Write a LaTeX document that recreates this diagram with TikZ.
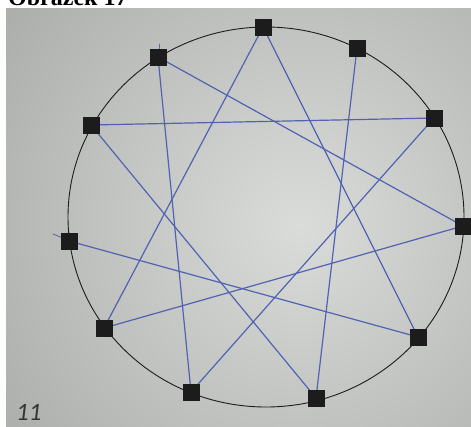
\documentclass[tikz,border=0pt]{standalone}
\usepackage{fontspec}
\setmainfont{Liberation Serif}
\newfontfamily\numfont{Carlito}
\definecolor{bgin}{RGB}{218,220,217}
\definecolor{bgout}{RGB}{150,152,150}
\definecolor{pen}{RGB}{82,98,178}
\definecolor{ink}{RGB}{28,28,28}
\tikzset{
  sq/.style={fill=ink, draw=none, minimum size=17pt, inner sep=0pt},
  penline/.style={draw=pen, line width=1.2pt, line cap=round},
  stray/.style={draw=pen!70!gray, line width=0.9pt, line cap=round},
}
\begin{document}
\begin{tikzpicture}[x=1pt,y=-1pt]
\useasboundingbox (0,0) rectangle (471,426);
\clip (0,0) rectangle (471,426);
\fill[white] (0,0) rectangle (471,426);
\begin{scope}
  \clip (6,8) rectangle (471,426);
  \shade[inner color=bgin, outer color=bgout] (300,225) circle (540);
\end{scope}
\node[anchor=base west, font=\bfseries\fontsize{24}{24}\selectfont, inner sep=0pt] (title) at (8,5) {Obrázek 17};
\node[anchor=base west, font=\numfont\itshape\fontsize{25}{25}\selectfont, text=ink!90, inner sep=0pt] (num) at (16,420) {11};
\draw[ink, line width=0.9pt] (266,217) ellipse [x radius=198, y radius=190];
\coordinate (s1a) at (159,44);
\coordinate (s1b) at (159,52);
\coordinate (s2a) at (53,234);
\coordinate (s2b) at (63,238);
\draw[stray] (s1a) -- (s1b);
\draw[stray] (s2a) -- (s2b);
\coordinate (A) at (158,57);
\coordinate (B) at (263,27);
\coordinate (C) at (357,48);
\coordinate (D) at (434,118);
\coordinate (E) at (463,226);
\coordinate (F) at (418,337);
\coordinate (G) at (316,398);
\coordinate (H) at (191,392);
\coordinate (I) at (104,328);
\coordinate (J) at (69,241);
\coordinate (K) at (91,125);
\draw[penline] (A) -- (H);
\draw[penline] (A) -- (E);
\draw[penline] (B) -- (I);
\draw[penline] (B) -- (F);
\draw[penline] (C) -- (G);
\draw[penline] (D) -- (K);
\draw[penline] (D) -- (H);
\draw[penline] (E) -- (I);
\draw[penline] (F) -- (J);
\draw[penline] (K) -- (G);
\foreach \n in {A,B,C,D,E,F,G,H,I,J,K}
  \node[sq] (sq\n) at (\n) {};
\end{tikzpicture}
\end{document}
